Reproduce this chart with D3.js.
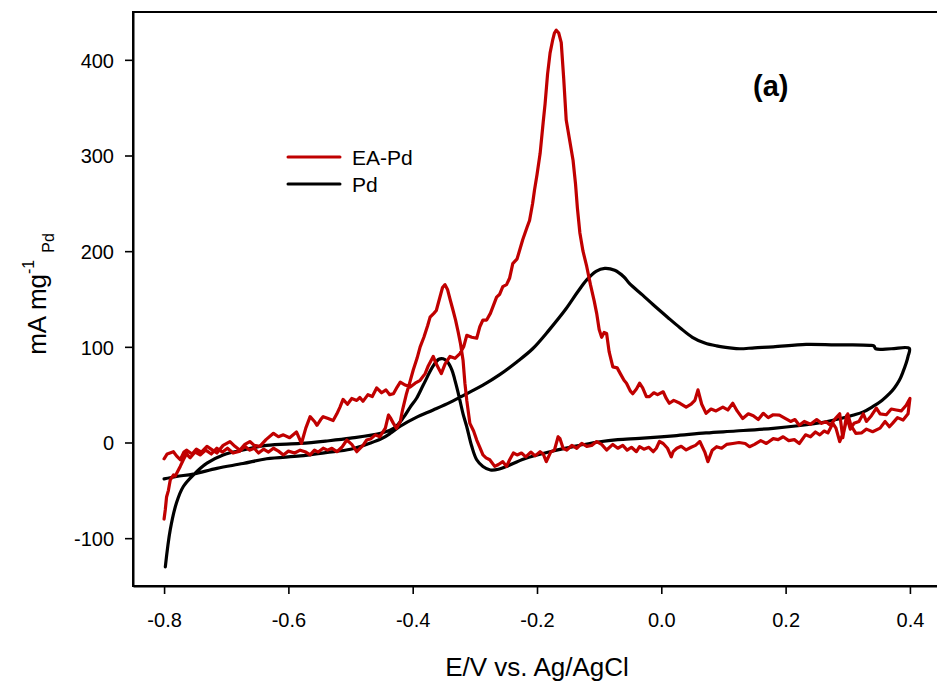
<!DOCTYPE html>
<html>
<head>
<meta charset="utf-8">
<script src="https://cdn.jsdelivr.net/npm/d3@7"></script>
<style>
  html, body { margin: 0; padding: 0; background: #fff; }
  svg { display: block; }
  text { font-family: Arial, "Liberation Sans", sans-serif; fill: #000; }
</style>
</head>
<body>
<svg id="chart" width="937" height="688"></svg>
<script>
// ---------- data ----------
const xTicks = [-0.8, -0.6, -0.4, -0.2, 0.0, 0.2, 0.4];
const yTicks = [-100, 0, 100, 200, 300, 400];
const seriesNames = ["EA-Pd", "Pd"];
const seriesColors = ["#c00000", "#000000"];

// Pd : [E (V), current (mA mg-1)] in scan order
const pdCurve = [
  [-0.800,-38],[-0.780,-35.5],[-0.753,-33],[-0.715,-27],[-0.673,-22],[-0.635,-17],[-0.581,-14],
  [-0.540,-10.5],[-0.500,-7],[-0.470,-1],[-0.450,4],[-0.435,10],[-0.420,17],[-0.395,26],[-0.367,34],
  [-0.340,42],[-0.313,51],[-0.287,60],[-0.260,71],[-0.233,84],[-0.207,98],[-0.180,118],[-0.153,140],
  [-0.135,157],[-0.120,170],[-0.105,179],[-0.091,182],[-0.075,180],[-0.060,173],[-0.051,166],
  [-0.030,154],[-0.013,144],[0.010,131],[0.030,120],[0.050,110],[0.070,104],[0.089,101],[0.110,99],
  [0.126,98],[0.150,99],[0.180,100],[0.233,102.5],[0.280,102],[0.308,102],[0.335,101.5],[0.342,101],
  [0.345,98],[0.370,98],[0.399,98.4],
  [0.397,90],[0.394,83],[0.389,74],[0.383,65],[0.375,57],[0.367,51],[0.355,44],[0.340,37.4],
  [0.325,32],[0.308,28.5],[0.285,24.5],[0.265,21.7],[0.220,17.5],[0.180,14.8],[0.120,12],[0.072,10],
  [0.020,7],[-0.035,4.4],[-0.070,3],[-0.099,0.8],[-0.140,-4],[-0.179,-9.6],[-0.220,-17],[-0.249,-25],
  [-0.262,-28],[-0.275,-28.7],[-0.287,-25],[-0.297,-18],[-0.305,-4],[-0.313,16.5],[-0.319,30],
  [-0.324,44],[-0.328,55],[-0.332,65],[-0.337,76],[-0.345,85],[-0.351,87.5],[-0.358,87],[-0.367,80],
  [-0.383,60],[-0.394,46],[-0.404,37],[-0.415,26],[-0.430,15],[-0.450,10],[-0.500,4.5],[-0.540,1.5],
  [-0.581,-1],[-0.635,-3],[-0.673,-7.8],[-0.705,-13],[-0.731,-21.6],[-0.753,-34],[-0.769,-46],
  [-0.780,-63],[-0.790,-91],[-0.798,-130]
];

// EA-Pd : [E (V), current (mA mg-1)] in scan order
const eaPdCurve = [
  [-0.800,-17],[-0.795,-12],[-0.785,-9.6],[-0.780,-14],[-0.774,-18],[-0.768,-10],[-0.764,-8],[-0.755,-12],
  [-0.748,-7],[-0.740,-10],[-0.731,-4],[-0.722,-8],[-0.715,-11],[-0.705,-3],[-0.694,1],[-0.686,-4],
  [-0.678,-8],[-0.670,-2],[-0.662,1],[-0.655,-3],[-0.646,-4],[-0.636,3],[-0.624,9.6],[-0.616,6],
  [-0.608,8],[-0.598,5],[-0.587,11],[-0.579,-1],[-0.572,15],[-0.565,27],[-0.558,22],[-0.554,18],
  [-0.548,24],[-0.544,27],[-0.536,25],[-0.528,23],[-0.522,30],[-0.517,37],[-0.512,45],[-0.505,40],
  [-0.498,46],[-0.490,44],[-0.485,47],[-0.480,43],[-0.472,50],[-0.465,48],[-0.458,57],[-0.450,52],
  [-0.443,55],[-0.437,50],[-0.431,51],[-0.425,58],[-0.420,63],[-0.412,60],[-0.404,58],[-0.396,62],
  [-0.388,65],[-0.380,72],[-0.375,80],[-0.367,90],[-0.362,82],[-0.354,72],[-0.348,82],[-0.340,90],
  [-0.332,88],[-0.324,93],[-0.318,100],[-0.313,112],[-0.305,110],[-0.297,109],[-0.292,121],[-0.287,128],
  [-0.281,128],[-0.275,135],[-0.265,152],[-0.260,155],[-0.255,163],[-0.249,165],[-0.244,172],[-0.239,187],
  [-0.232,192],[-0.223,212],[-0.216,225],[-0.212,232],[-0.207,250],[-0.204,264],[-0.200,280],[-0.195,302],
  [-0.190,335],[-0.187,354],[-0.183,385],[-0.179,407],[-0.175,420],[-0.172,428],[-0.169,431],[-0.165,428],
  [-0.161,418],[-0.157,380],[-0.153,337],[-0.148,318],[-0.142,295],[-0.138,270],[-0.135,245],[-0.131,219],
  [-0.126,200],[-0.120,184],[-0.114,165],[-0.108,148],[-0.104,135],[-0.100,118],[-0.096,110],[-0.092,115],
  [-0.088,114],[-0.084,95],[-0.078,79],[-0.071,78],[-0.066,72],[-0.060,65],[-0.056,62],[-0.050,54],
  [-0.046,51],[-0.040,56],[-0.035,62],[-0.030,57],[-0.024,48],[-0.019,48],[-0.012,52],[-0.006,50],
  [0.003,53],[0.008,46],[0.013,41],[0.020,44],[0.030,41],[0.040,37],[0.048,40],[0.054,44],[0.059,55],
  [0.065,40],[0.072,30.5],[0.080,35],[0.088,33],[0.099,37],[0.107,34],[0.115,41],[0.122,33],[0.131,25],
  [0.140,30],[0.148,28],[0.156,24],[0.164,30.5],[0.172,26],[0.180,29],[0.190,28.7],[0.200,25],[0.208,22],
  [0.215,24],[0.222,18],[0.230,22],[0.240,19],[0.250,24],[0.258,20],[0.265,21.7],[0.272,18],[0.280,25],
  [0.287,30],[0.292,5],[0.298,28],[0.304,14],[0.310,20],[0.318,22],[0.325,30],[0.330,22],[0.338,28],
  [0.346,36],[0.352,30],[0.362,29],[0.370,35],[0.378,34],[0.386,33],[0.394,39],[0.400,46],
  [0.397,30],[0.389,23.5],[0.380,26],[0.372,20],[0.367,16.5],[0.360,22],[0.352,15],[0.340,11.3],
  [0.330,14],[0.322,10],[0.313,9.6],[0.305,18],[0.300,30],[0.294,12],[0.287,1],[0.281,15],[0.276,20],
  [0.268,10],[0.262,12],[0.255,8],[0.248,11],[0.240,6],[0.232,8],[0.222,-1],[0.214,3],[0.205,2],
  [0.196,6],[0.188,3],[0.180,4],[0.169,-1],[0.160,2],[0.150,-2],[0.142,-4.4],[0.135,-1],[0.125,0],
  [0.115,-1],[0.105,-2],[0.097,-6],[0.089,-4.4],[0.082,-8],[0.075,-20],[0.070,-10],[0.062,1],[0.055,-3],
  [0.048,-5],[0.040,-7.8],[0.032,-4],[0.025,-6],[0.019,-9.6],[0.016,-15],[0.010,-6],[0.003,-1],
  [-0.003,1],[-0.008,-6],[-0.013,-9.6],[-0.020,-5],[-0.028,-7],[-0.035,-4.4],[-0.040,-9.6],[-0.048,-5],
  [-0.055,-8],[-0.062,-3],[-0.070,-6],[-0.078,-2],[-0.088,-7.8],[-0.096,-2],[-0.104,1],[-0.112,-3],
  [-0.120,-4],[-0.128,-1],[-0.136,-6],[-0.144,-3],[-0.152,-8],[-0.158,-6],[-0.163,4],[-0.166,6],
  [-0.172,-8],[-0.178,-10],[-0.185,-20],[-0.190,-12],[-0.195,-9.6],[-0.203,-14],[-0.210,-10],[-0.218,-15],
  [-0.225,-11],[-0.232,-13],[-0.238,-11],[-0.244,-18],[-0.249,-25],[-0.255,-20],[-0.262,-23],[-0.268,-25],
  [-0.276,-18],[-0.282,-16],[-0.287,-13],[-0.292,-5],[-0.297,2.6],[-0.302,12],[-0.308,20],[-0.313,44],
  [-0.316,62],[-0.319,86],[-0.323,103],[-0.327,116],[-0.331,128],[-0.335,138],[-0.340,150],[-0.344,160],
  [-0.348,165],[-0.352,162],[-0.357,150],[-0.362,138],[-0.366,135],[-0.372,131],[-0.376,122],[-0.382,110],
  [-0.388,100],[-0.393,88],[-0.399,76],[-0.405,62],[-0.410,51],[-0.416,35],[-0.420,22],[-0.426,14.8],
  [-0.431,20],[-0.436,26],[-0.439,28.7],[-0.444,15],[-0.453,6],[-0.460,8],[-0.467,4],[-0.474,2.6],
  [-0.480,-3],[-0.490,-9.6],[-0.498,-2],[-0.506,2.6],[-0.514,-5],[-0.522,-9.6],[-0.530,-6],[-0.537,-8],
  [-0.544,-6],[-0.552,-10],[-0.558,-8],[-0.565,-13],[-0.572,-10],[-0.581,-8],[-0.590,-11],[-0.600,-9],
  [-0.608,-13],[-0.616,-9],[-0.624,-6],[-0.632,-10],[-0.640,-7],[-0.648,-11],[-0.655,-6],[-0.662,-8],
  [-0.670,-4],[-0.678,-9],[-0.689,-11],[-0.698,-6],[-0.706,-10],[-0.715,-6],[-0.724,-12],[-0.733,-8],
  [-0.742,-13],[-0.750,-10],[-0.758,-16],[-0.764,-12],[-0.769,-18],[-0.774,-25],[-0.778,-30],[-0.782,-35],
  [-0.785,-34],[-0.790,-39],[-0.793,-50],[-0.796,-57],[-0.798,-70],[-0.800,-80]
];

// ---------- chart ----------
const svg = d3.select("#chart");
const mLeft = 133, mRight = 941, mTop = 12, mBottom = 586;

const x = d3.scaleLinear().domain([-0.85, 0.45]).range([mLeft, mRight]);
const y = d3.scaleLinear().domain([-150, 450]).range([mBottom, mTop]);

// frame
svg.append("rect")
  .attr("x", mLeft).attr("y", mTop)
  .attr("width", mRight - mLeft).attr("height", mBottom - mTop)
  .attr("fill", "none").attr("stroke", "#000").attr("stroke-width", 2);

// axes (plain hyphen-minus as in the original)
const xAxis = svg.append("g").attr("transform", `translate(0,${mBottom})`)
  .call(d3.axisBottom(x).tickValues(xTicks).tickFormat(d => d.toFixed(1)).tickSize(8).tickSizeOuter(0));
const yAxis = svg.append("g").attr("transform", `translate(${mLeft},0)`)
  .call(d3.axisLeft(y).tickValues(yTicks).tickFormat(d => String(d)).tickSize(8).tickSizeOuter(0));

[xAxis, yAxis].forEach(g => {
  g.select(".domain").attr("stroke", "#000").attr("stroke-width", 2);
  g.selectAll(".tick line").attr("stroke", "#000").attr("stroke-width", 1.6);
  g.selectAll(".tick text").attr("font-size", 20)
    .attr("font-family", "Arial, 'Liberation Sans', sans-serif").attr("fill", "#000");
});
xAxis.selectAll(".tick text").attr("y", 41).attr("dy", null);
yAxis.selectAll(".tick text").attr("x", -19).attr("dy", "0.36em");

// curves
const lineSmooth = d3.line().x(d => x(d[0])).y(d => y(d[1])).curve(d3.curveCatmullRom.alpha(0.5));
const lineRaw = d3.line().x(d => x(d[0])).y(d => y(d[1])).curve(d3.curveLinear);

svg.append("clipPath").attr("id", "plotClip")
  .append("rect").attr("x", mLeft).attr("y", mTop).attr("width", mRight - mLeft).attr("height", mBottom - mTop);

const plot = svg.append("g").attr("clip-path", "url(#plotClip)");
plot.append("path").datum(pdCurve).attr("d", lineSmooth)
  .attr("fill", "none").attr("stroke", seriesColors[1]).attr("stroke-width", 3.2)
  .attr("stroke-linejoin", "round").attr("stroke-linecap", "round");
plot.append("path").datum(eaPdCurve).attr("d", lineRaw)
  .attr("fill", "none").attr("stroke", seriesColors[0]).attr("stroke-width", 3.2)
  .attr("stroke-linejoin", "round").attr("stroke-linecap", "round");

// legend
const legend = svg.append("g");
seriesNames.forEach((name, i) => {
  const yy = 157 + i * 27;
  legend.append("line").attr("x1", 288).attr("x2", 340).attr("y1", yy).attr("y2", yy)
    .attr("stroke", seriesColors[i]).attr("stroke-width", 3).attr("stroke-linecap", "round");
  legend.append("text").attr("x", 352).attr("y", yy + 8).attr("font-size", 21).text(name);
});

// panel label
svg.append("text").attr("x", 753).attr("y", 96).attr("font-size", 29)
  .attr("font-weight", "bold").text("(a)");

// axis titles
svg.append("text").attr("x", 537).attr("y", 676)
  .attr("text-anchor", "middle").attr("font-size", 26).text("E/V vs. Ag/AgCl");

const yt = svg.append("text").attr("transform", "translate(46,294) rotate(-90)")
  .attr("text-anchor", "middle").attr("font-size", 26);
yt.append("tspan").text("mA mg");
yt.append("tspan").attr("font-size", 16).attr("dy", -12).text("-1");
yt.append("tspan").attr("font-size", 16).attr("dy", 20).attr("dx", 7).text("Pd");
</script>
</body>
</html>
